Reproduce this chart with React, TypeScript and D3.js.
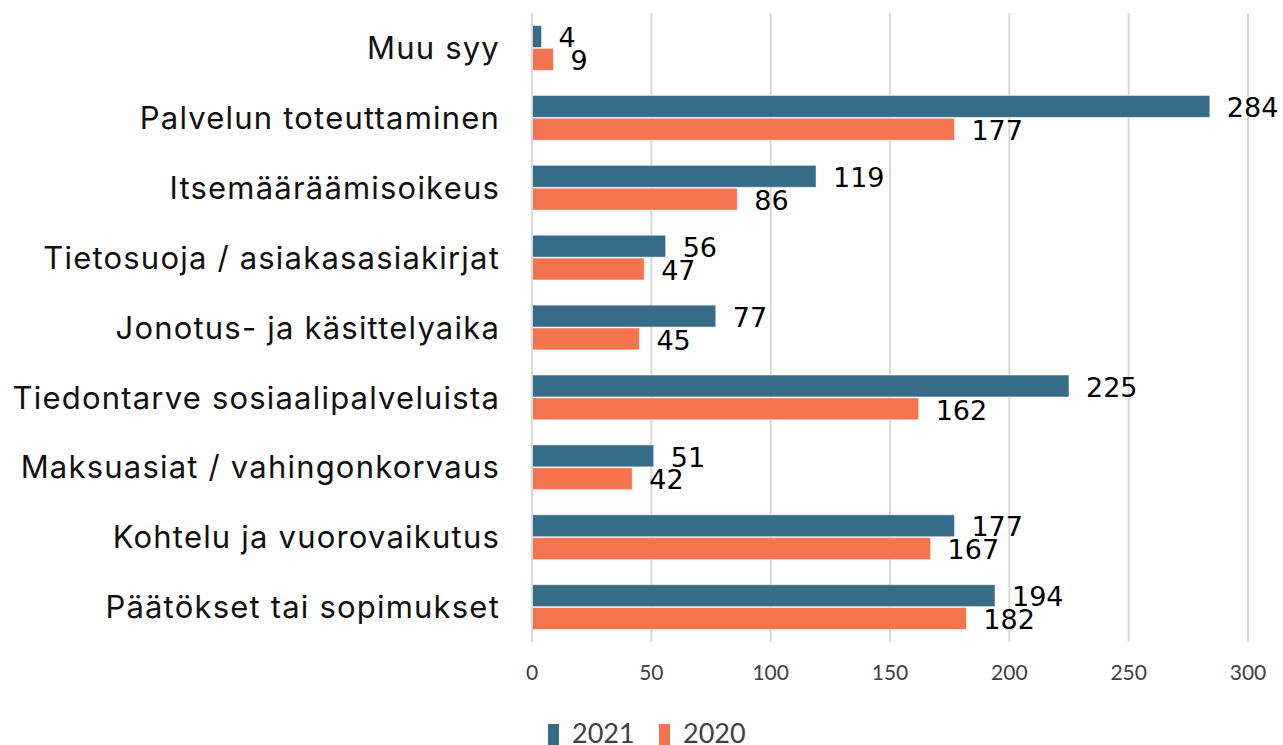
import React from "react";
import * as d3 from "d3";

const categories = [
  "Muu syy",
  "Palvelun toteuttaminen",
  "Itsemääräämisoikeus",
  "Tietosuoja / asiakasasiakirjat",
  "Jonotus- ja käsittelyaika",
  "Tiedontarve sosiaalipalveluista",
  "Maksuasiat / vahingonkorvaus",
  "Kohtelu ja vuorovaikutus",
  "Päätökset tai sopimukset",
];
const values2021 = [4, 284, 119, 56, 77, 225, 51, 177, 194];
const values2020 = [9, 177, 86, 47, 45, 162, 42, 167, 182];
const seriesNames = ["2021", "2020"];
const xTicks = [0, 50, 100, 150, 200, 250, 300];

const COLORS = ["#376c89", "#f4744f"];

export default function App() {
  const W = 1283, H = 745;
  const x = d3.scaleLinear().domain([0, 300]).range([532, 1248]);
  const y = d3.scaleBand<string>().domain(categories).range([13, 642]).paddingInner(0.36).paddingOuter(0.18);
  const sub = d3.scaleBand<string>().domain(seriesNames).range([0, y.bandwidth()]).paddingInner(0.04);
  const series = [values2021, values2020];
  return (
    <svg width={W} height={H} style={{ position: "absolute", left: 0, top: 0, background: "#fff" }}>
      {xTicks.map((t) => (
        <g key={t}>
          {t !== 0 && <line x1={x(t)} x2={x(t)} y1={13} y2={642} stroke="#d9d9d9" strokeWidth={2} />}
          <text x={x(t)} y={680} textAnchor="middle" fontFamily="Lato, sans-serif" fontSize={21} fill="#404040">{t}</text>
        </g>
      ))}
      {categories.map((c, i) => (
        <g key={c}>
          <text x={500} y={(y(c) as number) + y.bandwidth() / 2} dy="0.36em" textAnchor="end" fontFamily="Inter, sans-serif" fontSize={31} letterSpacing={1.2} fill="#111">{c}</text>
          {series.map((vals, s) => {
            const by = (y(c) as number) + (sub(seriesNames[s]) as number);
            return (
              <g key={s}>
                <rect x={x(0)} y={by} width={x(vals[i]) - x(0)} height={sub.bandwidth()} fill={COLORS[s]} stroke="#ffffff" strokeOpacity={0.5} strokeWidth={1} />
                <text x={x(vals[i]) + 17} y={by + sub.bandwidth() / 2 + 1} dy="0.36em" fontFamily="'DejaVu Sans', sans-serif" fontSize={27} fill="#000">{vals[i]}</text>
              </g>
            );
          })}
        </g>
      ))}
      <line x1={x(0)} x2={x(0)} y1={13} y2={642} stroke="#d9d9d9" strokeWidth={2} />
      <g fontFamily="Lato, sans-serif" fontSize={27} fill="#404040">
        <rect x={548} y={724} width={11} height={21} fill={COLORS[0]} />
        <text x={572} y={743}>2021</text>
        <rect x={659} y={724} width={11} height={21} fill={COLORS[1]} />
        <text x={683} y={743}>2020</text>
      </g>
    </svg>
  );
}
